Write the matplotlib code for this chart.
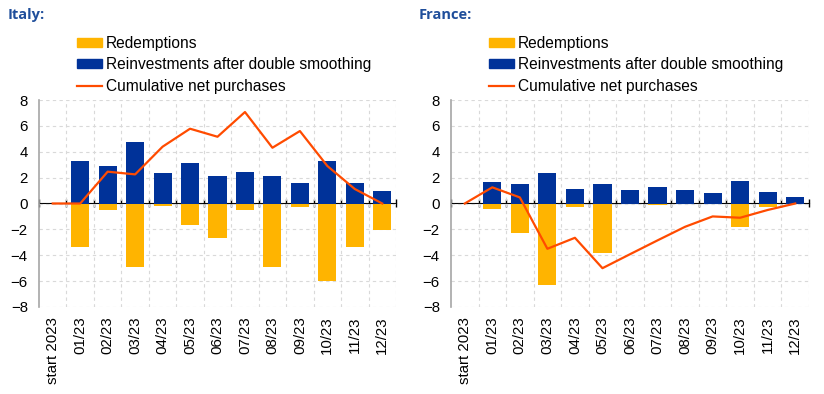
import numpy as np
import matplotlib
matplotlib.use('Agg')
import matplotlib.pyplot as plt
from matplotlib.patches import Patch
from matplotlib.lines import Line2D

plt.rcParams['font.family'] = ['Liberation Sans', 'DejaVu Sans']

labels = ['start 2023', '01/23', '02/23', '03/23', '04/23', '05/23', '06/23',
          '07/23', '08/23', '09/23', '10/23', '11/23', '12/23']

# Italy
it_reinv = [0, 3.3, 2.92, 4.73, 2.33, 3.1, 2.1, 2.41, 2.12, 1.61, 3.28, 1.56, 0.99]
it_redem = [0, -3.34, -0.48, -4.93, -0.19, -1.69, -2.67, -0.53, -4.88, -0.3, -5.96, -3.39, -2.07]
it_cum = [0, 0, 2.46, 2.25, 4.39, 5.78, 5.16, 7.07, 4.31, 5.6, 2.9, 1.12, 0]

# France
fr_reinv = [0, 1.69, 1.48, 2.33, 1.14, 1.53, 1.02, 1.25, 1.07, 0.79, 1.74, 0.87, 0.53]
fr_redem = [0, -0.4, -2.25, -6.27, -0.3, -3.85, -0.02, -0.15, -0.02, 0, -1.79, -0.25, 0]
fr_cum = [0, 1.25, 0.47, -3.5, -2.65, -5.0, -3.92, -2.85, -1.8, -1.0, -1.1, -0.5, 0]

c_red = '#FFB400'
c_rei = '#003299'
c_line = '#FF4B00'
title_col = '#1F4E9B'

fig = plt.figure(figsize=(8.24, 3.94), dpi=100)


def panel(rect, title, reinv, redem, cum, title_x):
    ax = fig.add_axes(rect)
    x = np.arange(len(labels))
    ax.bar(x, redem, width=0.66, color=c_red, zorder=2)
    ax.bar(x, reinv, width=0.66, color=c_rei, zorder=2)
    ax.plot(x, cum, color=c_line, lw=1.6, zorder=3)
    ax.set_xlim(-0.5, len(labels) - 0.5)
    ax.set_ylim(-8, 8)
    ax.set_yticks(range(-8, 9, 2))
    ax.set_xticks(x)
    ax.set_xticklabels(labels, rotation=90, fontsize=10.8)
    ax.set_xticks(np.arange(0.5, len(labels), 1), minor=True)
    ax.tick_params(axis='x', which='both', length=0, pad=7)
    ax.tick_params(axis='y', length=0, labelsize=10.8, pad=8)
    ax.grid(True, which='major', axis='y', ls=(0, (3, 3)), color='#D9D9D9', lw=0.8, zorder=0)
    ax.grid(True, which='minor', axis='x', ls=(0, (3, 3)), color='#D9D9D9', lw=0.8, zorder=0)
    for s in ['top', 'right', 'bottom']:
        ax.spines[s].set_visible(False)
    ax.spines['left'].set_color('#A6A6A6')
    ax.spines['left'].set_linewidth(1.2)
    # zero line with tick marks at category boundaries
    zero = ax.secondary_xaxis(0.5)
    zero.set_xticks(np.arange(-0.5, len(labels), 1))
    zero.set_xticklabels([])
    zero.tick_params(direction='inout', length=6, width=1, color='black')
    zero.spines['bottom'].set_color('black')
    zero.spines['bottom'].set_linewidth(1)
    handles = [Patch(color=c_red), Patch(color=c_rei), Line2D([], [], color=c_line, lw=1.6)]
    ax.legend(handles, ['Redemptions', 'Reinvestments after double smoothing',
                        'Cumulative net purchases'],
              loc='lower left', bbox_to_anchor=(0.09, 1.0), frameon=False,
              fontsize=11.2, handlelength=1.6, handleheight=0.5, handletextpad=0.25,
              labelspacing=0.42, borderaxespad=0)
    fig.text(title_x, 1 - 15 / 394, title, color=title_col, fontsize=10.5,
             fontweight='bold', family='Open Sans', va='center')
    return ax


panel([39 / 824, 1 - 307 / 394, 357 / 824, 207 / 394], 'Italy:', it_reinv, it_redem, it_cum, 8 / 824)
panel([451 / 824, 1 - 307 / 394, 358 / 824, 207 / 394], 'France:', fr_reinv, fr_redem, fr_cum, 419 / 824)

fig.savefig('out.png', dpi=100)
